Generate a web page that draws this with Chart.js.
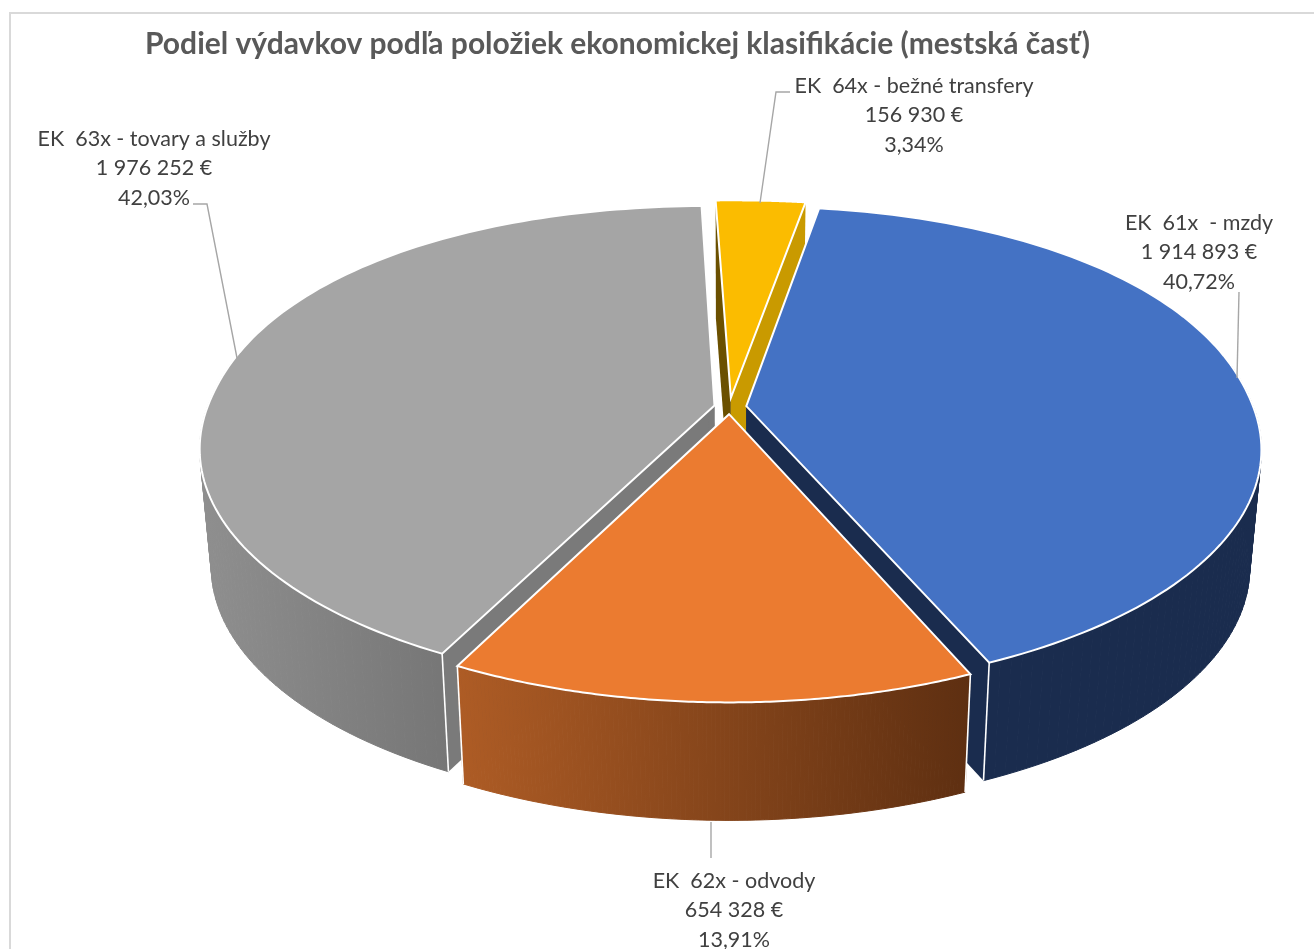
<!DOCTYPE html>
<html>
<head>
<meta charset="utf-8">
<style>
  html, body { margin: 0; padding: 0; background: #fff; overflow: hidden; }
  canvas { display: block; }
</style>
</head>
<body>
<canvas id="vydavky" width="1314" height="949"></canvas>
<script src="https://cdn.jsdelivr.net/npm/chart.js@4/dist/chart.umd.js"></script>
<script>
const chartTitle = 'Podiel výdavkov podľa položiek ekonomickej klasifikácie (mestská časť)';
const categories = ['EK  61x  - mzdy', 'EK  62x - odvody', 'EK  63x - tovary a služby', 'EK  64x - bežné transfery'];
const amounts = [1914893, 654328, 1976252, 156930];

const topColors = ['#4472C4', '#EB7B30', '#A5A5A5', '#FBBC00'];
// wall colours: left and right end of the gradient, then the cut faces
const wallLeft = ['#1A2C4E', '#AE5C25', '#8F8F8F', '#6B5000'];
const wallRight = ['#1A2C4E', '#5E2F11', '#767676', '#6B5000'];
const cutStart = ['#1A2C4E', '#1A2C4E', '#7A7A7A', '#6B5000'];
const cutEnd = ['#1A2C4E', '#1A2C4E', '#7A7A7A', '#C99A00'];

const labelAnchors = [[1199, 223], [734, 881], [154, 139], [914, 86]];
const leaders = [
	[[1237, 378], [1239, 292]],
	[[711, 822], [711, 858]],
	[[237, 358], [207, 204], [193, 204]],
	[[760, 203], [776, 92], [790, 92]],
];

// tilted disc with some perspective, the angles come from the arc elements
const rx = 507, ry = 235, persp = 0.175, depth = 118, shrink = 0.978;
const rimPower = 2.12; // far half of the rim is a little fuller than a true ellipse

function formatAmount(v) {
	return String(v).replace(/\B(?=(\d{3})+$)/g, ' ') + ' €';
}

function formatShare(v) {
	const total = amounts.reduce((a, b) => a + b, 0);
	return (v / total * 100).toFixed(2).replace('.', ',') + '%';
}

function topPoint(el, angle, r) {
	const mid = (el.startAngle + el.endAngle) / 2;
	const e = el.options.offset / el.outerRadius;
	const c = Math.cos(angle), s = Math.sin(angle);
	const rim = s < 0 ? Math.pow(Math.pow(Math.abs(c), rimPower) + Math.pow(Math.abs(s), rimPower), -1 / rimPower) : 1;
	const u = r * rim * c + e * Math.cos(mid);
	const v = r * rim * s + e * Math.sin(mid);
	const d = 1 - persp * v;
	return { x: el.x + rx * u / d, y: el.y + ry * v / d };
}

function lowPoint(el, angle, r) {
	const p = topPoint(el, angle, r);
	return { x: el.x + (p.x - el.x) * shrink, y: p.y + depth };
}

function fillPoly(ctx, pts, fill) {
	ctx.beginPath();
	pts.forEach((p, i) => (i ? ctx.lineTo(p.x, p.y) : ctx.moveTo(p.x, p.y)));
	ctx.closePath();
	ctx.fillStyle = fill;
	ctx.fill();
}

function whiteLine(ctx, a, b) {
	ctx.beginPath();
	ctx.moveTo(a.x, a.y);
	ctx.lineTo(b.x, b.y);
	ctx.strokeStyle = '#fff';
	ctx.lineWidth = 1.6;
	ctx.stroke();
}

function drawSlice(ctx, el, i) {
	const a0 = el.startAngle, a1 = el.endAngle;
	const steps = 120;

	// cut faces
	fillPoly(ctx, [topPoint(el, a0, 0), topPoint(el, a0, 1), lowPoint(el, a0, 1), lowPoint(el, a0, 0)], cutStart[i]);
	fillPoly(ctx, [topPoint(el, a1, 0), topPoint(el, a1, 1), lowPoint(el, a1, 1), lowPoint(el, a1, 0)], cutEnd[i]);

	// outer wall, only the part that faces the viewer
	const upper = [], lower = [];
	for (let s = 0; s <= steps; s++) {
		const a = a0 + (a1 - a0) * s / steps;
		if (Math.sin(a) < -0.2) continue;
		upper.push(topPoint(el, a, 1));
		lower.push(lowPoint(el, a, 1));
	}
	if (upper.length > 1) {
		const xs = upper.concat(lower).map((p) => p.x);
		const grad = ctx.createLinearGradient(Math.min(...xs), 0, Math.max(...xs), 0);
		grad.addColorStop(0, wallLeft[i]);
		grad.addColorStop(1, wallRight[i]);
		// one quad per step, so the outline is the hull of both rims
		ctx.strokeStyle = grad;
		ctx.lineWidth = 1;
		ctx.lineJoin = 'round';
		for (let k = 0; k < upper.length - 1; k++) {
			fillPoly(ctx, [upper[k], upper[k + 1], lower[k + 1], lower[k]], grad);
			ctx.stroke();
		}
	}
	if (Math.sin(a0) > 0) whiteLine(ctx, topPoint(el, a0, 1), lowPoint(el, a0, 1));
	if (Math.sin(a1) > 0) whiteLine(ctx, topPoint(el, a1, 1), lowPoint(el, a1, 1));

	// top face
	const face = [topPoint(el, a0, 0)];
	for (let s = 0; s <= steps; s++) {
		face.push(topPoint(el, a0 + (a1 - a0) * s / steps, 1));
	}
	fillPoly(ctx, face, topColors[i]);
	ctx.strokeStyle = '#fff';
	ctx.lineWidth = 2;
	ctx.lineJoin = 'miter';
	ctx.stroke();
}

const pie3d = {
	id: 'pie3d',
	beforeDraw(chart) {
		const ctx = chart.ctx;
		ctx.save();
		ctx.strokeStyle = '#D9D9D9';
		ctx.lineWidth = 2;
		ctx.beginPath();
		ctx.moveTo(10, 960);
		ctx.lineTo(10, 13);
		ctx.lineTo(1320, 13);
		ctx.stroke();
		ctx.restore();
	},
	beforeDatasetsDraw(chart) {
		const ctx = chart.ctx;
		const arcs = chart.getDatasetMeta(0).data;
		const order = arcs.map((el, i) => i).sort((a, b) => {
			const ma = (arcs[a].startAngle + arcs[a].endAngle) / 2;
			const mb = (arcs[b].startAngle + arcs[b].endAngle) / 2;
			return Math.sin(ma) - Math.sin(mb);
		});
		ctx.save();
		order.forEach((i) => drawSlice(ctx, arcs[i], i));
		ctx.restore();
		return false;
	},
	afterDraw(chart) {
		const ctx = chart.ctx;
		ctx.save();
		ctx.strokeStyle = '#A6A6A6';
		ctx.lineWidth = 1.4;
		leaders.forEach((line) => {
			ctx.beginPath();
			line.forEach((p, i) => (i ? ctx.lineTo(p[0], p[1]) : ctx.moveTo(p[0], p[1])));
			ctx.stroke();
		});
		ctx.fillStyle = '#404040';
		ctx.font = '21.5px Lato';
		ctx.textAlign = 'center';
		ctx.textBaseline = 'middle';
		categories.forEach((name, i) => {
			const [x, y] = labelAnchors[i];
			ctx.fillText(name, x, y);
			ctx.fillText(formatAmount(amounts[i]), x, y + 29);
			ctx.fillText(formatShare(amounts[i]), x, y + 59);
		});
		ctx.restore();
	},
};

new Chart(document.getElementById('vydavky'), {
	type: 'pie',
	data: {
		labels: categories,
		datasets: [
			{
				data: amounts,
				backgroundColor: topColors,
				borderColor: '#fff',
				offset: [11, 10, 10, 13],
			},
		],
	},
	options: {
		responsive: false,
		animation: false,
		rotation: 10,
		layout: { padding: { left: 145, bottom: 205 } },
		plugins: {
			legend: { display: false },
			tooltip: { enabled: false },
			title: {
				display: true,
				text: chartTitle,
				align: 'start',
				color: '#595959',
				font: { family: 'Lato', size: 30, weight: 'bold' },
				padding: { top: 26, bottom: 8 },
			},
		},
	},
	plugins: [pie3d],
});
</script>
</body>
</html>
